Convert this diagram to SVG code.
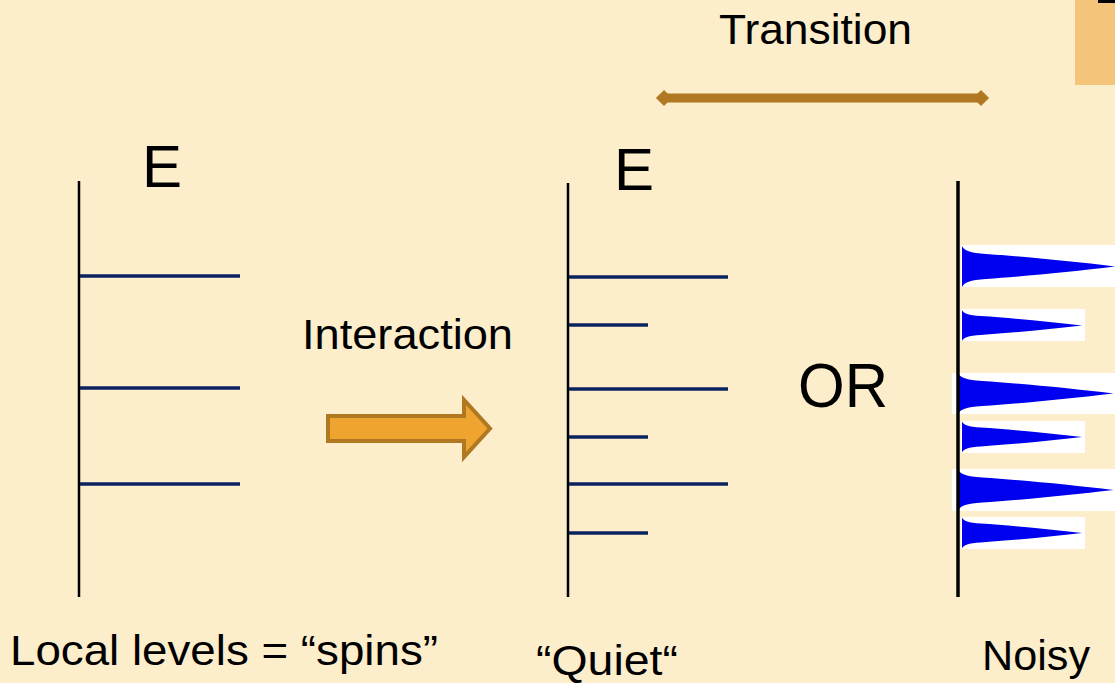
<svg xmlns="http://www.w3.org/2000/svg" width="1115" height="683" viewBox="0 0 1115 683">
<style>
.t{font-family:"Liberation Sans",Arial,sans-serif;fill:#000}
.axis{stroke:#000;stroke-width:2.5;fill:none}
.lvl{stroke:#0B2260;stroke-width:3.5;fill:none}
.peak{fill:#0000F0}
.bg{fill:#fff}
</style>
<defs>
<path id="bigpeak" d="M0,-20.5 C2,-16 8,-13.5 24,-12.5 C62,-10 112,-5 154,0 C112,5 62,10 24,12.5 C8,13.5 2,16 0,20.5 Z"/>
<marker id="dia" viewBox="-5 -5 10 10" markerWidth="2" markerHeight="2" refX="0" refY="0" orient="auto" markerUnits="strokeWidth">
<path d="M-4.5,0 L0,-4.5 L4.5,0 L0,4.5 Z" fill="#B07820"/>
</marker>
</defs>
<rect width="1115" height="683" fill="#FCEDCB"/>
<rect x="1075" y="0" width="40" height="85" fill="#F4C47A"/>
<rect x="1098" y="0" width="17" height="3" fill="#000"/>

<g id="connectors">
<line x1="664" y1="98" x2="981" y2="98" stroke="#B07820" stroke-width="9" marker-start="url(#dia)" marker-end="url(#dia)"/>
<path d="M328,416 L464,416 L464,400 L490,428.5 L464,457 L464,441 L328,441 Z" fill="#F0A430" stroke="#B07820" stroke-width="4"/>
</g>

<g id="labels">
<text class="t" x="719" y="44" font-size="43" textLength="193" lengthAdjust="spacingAndGlyphs">Transition</text>
<text class="t" x="302" y="349" font-size="43" textLength="211" lengthAdjust="spacingAndGlyphs">Interaction</text>
<text class="t" x="798" y="407" font-size="63" textLength="90" lengthAdjust="spacingAndGlyphs">OR</text>
</g>

<g id="local">
<text class="t" x="142" y="187" font-size="60">E</text>
<line class="axis" x1="79" y1="181" x2="79" y2="597"/>
<line class="lvl" x1="80" y1="276" x2="240" y2="276"/>
<line class="lvl" x1="80" y1="388" x2="240" y2="388"/>
<line class="lvl" x1="80" y1="484" x2="240" y2="484"/>
<text class="t" x="10" y="665" font-size="43" textLength="428" lengthAdjust="spacingAndGlyphs">Local levels = “spins”</text>
</g>

<g id="quiet">
<text class="t" x="614" y="190" font-size="60">E</text>
<line class="axis" x1="568" y1="183" x2="568" y2="597"/>
<line class="lvl" x1="569" y1="277" x2="728" y2="277"/>
<line class="lvl" x1="569" y1="325" x2="648" y2="325"/>
<line class="lvl" x1="569" y1="389" x2="728" y2="389"/>
<line class="lvl" x1="569" y1="437" x2="648" y2="437"/>
<line class="lvl" x1="569" y1="484" x2="728" y2="484"/>
<line class="lvl" x1="569" y1="533" x2="648" y2="533"/>
<text class="t" x="536" y="675" font-size="43" textLength="142" lengthAdjust="spacingAndGlyphs">“Quiet“</text>
</g>

<g id="noisy">
<rect class="bg" x="961" y="245" width="154" height="42"/>
<rect class="bg" x="961" y="309" width="124" height="32"/>
<rect class="bg" x="952" y="373" width="163" height="41"/>
<rect class="bg" x="961" y="421" width="124" height="32"/>
<rect class="bg" x="952" y="469" width="163" height="42"/>
<rect class="bg" x="961" y="517" width="124" height="32"/>
<use href="#bigpeak" class="peak" transform="translate(962,266.5)"/>
<use href="#bigpeak" class="peak" transform="translate(962,325.5) scale(0.78,0.756)"/>
<use href="#bigpeak" class="peak" transform="translate(958,393.5) scale(1.01,1)"/>
<use href="#bigpeak" class="peak" transform="translate(962,437) scale(0.78,0.756)"/>
<use href="#bigpeak" class="peak" transform="translate(958,490) scale(1.01,1)"/>
<use href="#bigpeak" class="peak" transform="translate(962,533) scale(0.78,0.756)"/>
<line x1="958" y1="181" x2="958" y2="597" stroke="#000" stroke-width="3.5"/>
<text class="t" x="982" y="670" font-size="42" textLength="108" lengthAdjust="spacingAndGlyphs">Noisy</text>
</g>
</svg>
